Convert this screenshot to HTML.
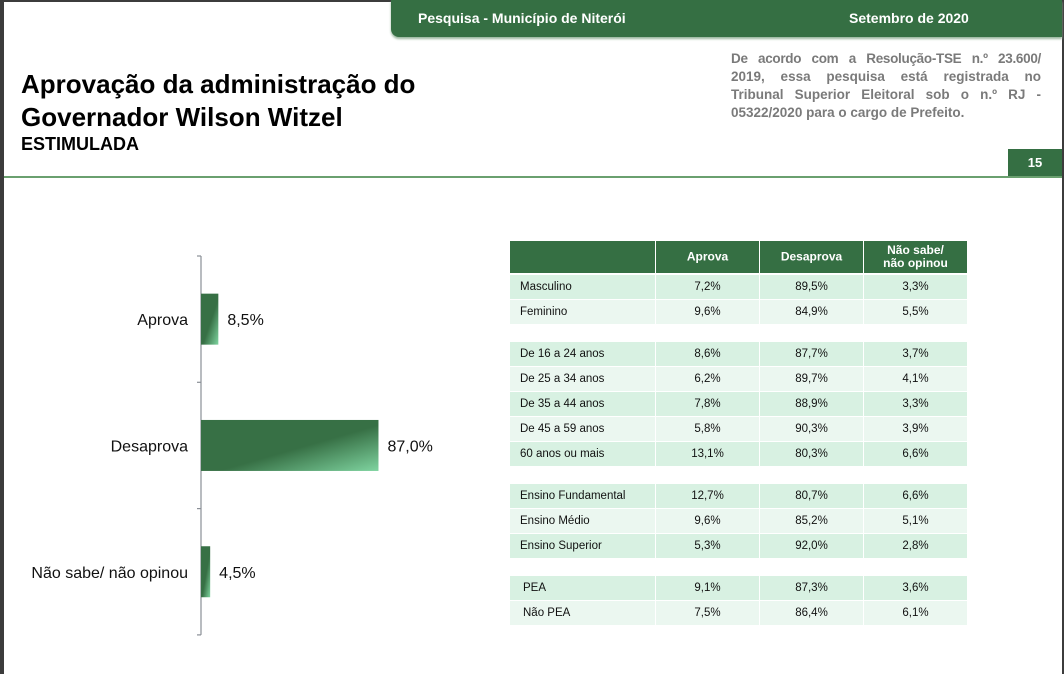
<!DOCTYPE html>
<html><head><meta charset="utf-8"><style>
body{margin:0;width:1064px;height:674px;overflow:hidden;background:#3c3c3c;font-family:"Liberation Sans",sans-serif;}
#page{position:absolute;left:4px;top:2px;width:1058px;height:672px;background:#fff;}
.abs{position:absolute;}
.cell{position:absolute;font-size:12px;color:#111;line-height:25px;}
.nl{display:block;text-align:justify;text-align-last:justify;white-space:nowrap;}
</style></head><body>
<div id="page"></div>
<div class="abs" style="left:391px;top:0;width:671px;height:37px;background:#356f43;border-bottom-left-radius:8px;box-shadow:0 2px 2px #9ab79f;"></div>
<div class="abs" style="left:418px;top:10px;color:#fff;font-weight:bold;font-size:14px;">Pesquisa - Município de Niterói</div>
<div class="abs" style="left:849px;top:10px;color:#fff;font-weight:bold;font-size:14px;">Setembro de 2020</div>
<div class="abs" style="left:21px;top:68px;font-size:26px;font-weight:bold;line-height:33px;color:#000;">Aprovação da administração do<br>Governador Wilson Witzel</div>
<div class="abs" style="left:21px;top:134px;font-size:18px;font-weight:bold;color:#000;">ESTIMULADA</div>
<div class="abs" style="left:731px;top:50px;width:310px;font-size:13.5px;font-weight:bold;color:#7a7a7a;line-height:18px;">
<span class="nl" style="letter-spacing:-0.3px">De acordo com a Resolução-TSE n.º 23.600/</span>
<span class="nl">2019, essa pesquisa está registrada no</span>
<span class="nl">Tribunal Superior Eleitoral sob o n.º RJ -</span>
<span style="display:block;white-space:nowrap;">05322/2020 para o cargo de Prefeito.</span>
</div>
<div class="abs" style="left:1008px;top:149px;width:54px;height:28px;background:#356f43;color:#fff;font-weight:bold;font-size:13px;line-height:28px;text-align:center;">15</div>
<div class="abs" style="left:4px;top:176px;width:1058px;height:2px;background:#6aa06f;"></div>

<svg class="abs" id="chart" style="left:0;top:0" width="500" height="674">
<defs><linearGradient id="g" x1="0" y1="0" x2="1" y2="1"><stop offset="0.55" stop-color="#377045"/><stop offset="1" stop-color="#7fd4a0"/></linearGradient></defs>
</svg>

<div id="table"></div>

<script>
const categories=["Aprova","Desaprova","Não sabe/ não opinou"];
const values=[8.5,87.0,4.5];
const valueLabels=["8,5%","87,0%","4,5%"];
const ns="http://www.w3.org/2000/svg";
const svg=document.getElementById('chart');
const axisX=201, top0=256, bandH=126.3, pxPer=2.04;
const xS=v=>axisX+v*pxPer;
const yBand=i=>top0+i*bandH;
function mk(t,a){const e=document.createElementNS(ns,t);for(const k in a)e.setAttribute(k,a[k]);svg.appendChild(e);return e;}
const ax=mk('line',{x1:axisX,y1:top0,x2:axisX,y2:yBand(categories.length),stroke:'#8a8f96','stroke-width':1.2});


for(let i=0;i<=categories.length;i++){
  const t=mk('line',{x1:axisX-4,y1:yBand(i),x2:axisX,y2:yBand(i),stroke:'#8a8f96','stroke-width':1.2});
  
  
}
categories.forEach((c,i)=>{
  const yc=yBand(i)+bandH/2;
  const r=mk('rect',{x:axisX,y:yc-25.5,width:xS(values[i])-axisX,height:51,fill:'url(#g)'});
  
  
  const l=mk('text',{x:188,y:yc+6,'text-anchor':'end','font-size':16,fill:'#111'});
  l.textContent=c;
  
  
  const v=mk('text',{x:xS(values[i])+9,y:yc+6,'font-size':16,fill:'#111'});
  v.textContent=valueLabels[i];
  
  
});

const rowLabels=["Masculino","Feminino","De 16 a 24 anos","De 25 a 34 anos","De 35 a 44 anos","De 45 a 59 anos","60 anos ou mais","Ensino Fundamental","Ensino Médio","Ensino Superior","PEA","Não PEA"];
const aprova=["7,2%","9,6%","8,6%","6,2%","7,8%","5,8%","13,1%","12,7%","9,6%","5,3%","9,1%","7,5%"];
const desaprova=["89,5%","84,9%","87,7%","89,7%","88,9%","90,3%","80,3%","80,7%","85,2%","92,0%","87,3%","86,4%"];
const naoSabe=["3,3%","5,5%","3,7%","4,1%","3,3%","3,9%","6,6%","6,6%","5,1%","2,8%","3,6%","6,1%"];
const rowTops=[275,300,342,367,392,417,442,484,509,534,576,601];
const cols=[[510,145],[656,103],[760,103],[864,103]];
const T=document.getElementById('table');
function cell(x,y,w,h,bg,html,style,name){
  const d=document.createElement('div');d.className='cell';
  d.style.cssText=`left:${x}px;top:${y}px;width:${w}px;height:${h}px;background:${bg};`+style;
  d.innerHTML=html;
  
  
  T.appendChild(d);
}
const hdr=["","Aprova","Desaprova","Não sabe/<br>não opinou"];
cols.forEach((c,j)=>cell(c[0],241,c[1],32,'#356f43',`<div style="position:absolute;top:50%;left:0;right:0;transform:translateY(-50%);line-height:13px;font-size:12px;">${hdr[j]}</div>`,'color:#fff;font-weight:bold;text-align:center;','header-cell'));
rowLabels.forEach((r,i)=>{
  const y=rowTops[i];
  const g=(i<2)?i:(i<7?i-2:(i<10?i-7:i-10));
  const bg=g%2?'#ebf7f0':'#d8f1e2';
  const pad=(i>=10)?13:10;
  cell(cols[0][0],y,cols[0][1]-pad,24,bg,r,`padding-left:${pad}px;font-size:11.5px;`,'row-label');
  [aprova,desaprova,naoSabe].forEach((arr,j)=>cell(cols[j+1][0],y,cols[j+1][1],24,bg,arr[i],'text-align:center;font-size:11.5px;','value-cell'));
});
</script>
</body></html>
